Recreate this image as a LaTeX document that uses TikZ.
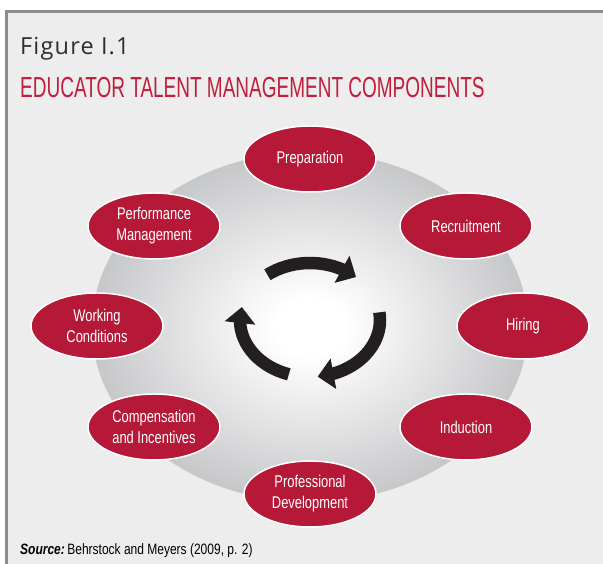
\documentclass[tikz,border=0pt]{standalone}
\usepackage{fontspec}
\setmainfont{Liberation Sans}
\newfontfamily\condfont[FakeStretch=0.76]{Liberation Sans}
\newfontfamily\srcfont[FakeStretch=0.8]{Liberation Sans}
\newfontfamily\titlefont[FakeStretch=0.655]{Liberation Sans}
\newfontfamily\figfont[LetterSpace=5]{Open Sans}
\usetikzlibrary{arrows.meta,bending,shapes.geometric}
\definecolor{bg}{HTML}{EDEDED}
\definecolor{framegray}{HTML}{8C8C8C}
\definecolor{compred}{HTML}{B51937}
\definecolor{titlered}{HTML}{C01E3C}
\definecolor{figgray}{HTML}{2E2E2E}
\definecolor{arrblack}{HTML}{231F20}
\definecolor{discgray}{HTML}{C6C7C9}
\pgfdeclareradialshading{discshade}{\pgfpoint{0bp}{0bp}}{color(0bp)=(white); color(4bp)=(white); color(25bp)=(discgray); color(50bp)=(discgray)}
\tikzset{
  comp/.style={ellipse, minimum width=132pt, minimum height=66pt, inner sep=0pt,
    fill=compred, draw=white, line width=1.5pt, text=white, align=center,
    font=\condfont\fontsize{17}{21}\selectfont},
  cyclearrow/.style={line width=12.5pt, color=arrblack,
    -{Triangle[width=30pt,length=16pt]}},
  plaintext/.style={anchor=base west, inner sep=0pt}
}
\begin{document}
\begin{tikzpicture}[x=1pt,y=1pt]
\useasboundingbox (0,0) rectangle (603,564);
\clip (0,0) rectangle (603,564);
% frame
\fill[bg] (6,-10) rectangle (620,553);
\draw[framegray, line width=2.5pt] (6.3,-10) -- (6.3,552.5) -- (620,552.5);
% titles
\node[plaintext, font=\figfont\fontsize{23.5}{27}\selectfont, text=figgray] (fig) at (20,509) {Figure I.1};
\node[plaintext, font=\titlefont\fontsize{29}{34}\selectfont, text=titlered] (title) at (20,466) {EDUCATOR TALENT MANAGEMENT COMPONENTS};
\node[plaintext, font=\srcfont\fontsize{15}{18}\selectfont, text=black] (src) at (20,9) {\textbf{\textit{Source:}}\,Behrstock and Meyers (2009, p. 2)};
% disc
\coordinate (disc) at (310,237);
\shade[shading=discshade] (disc) ellipse [x radius=218, y radius=175];
% cycle arrows
\coordinate (cyc) at (310,244);
\draw[cyclearrow] (cyc) ++(127.5:70 and 57) arc[start angle=127.5, end angle=48.9, x radius=70, y radius=57];
\draw[cyclearrow] (cyc) ++(7.7:70 and 57) arc[start angle=7.7, end angle=-83.7, x radius=70, y radius=57];
\draw[cyclearrow] (cyc) ++(252.4:70 and 57) arc[start angle=252.4, end angle=166.9, x radius=70, y radius=57];
% components
\node[comp] (prep) at (310,405) {Preparation};
\node[comp] (recr) at (466,338) {Recruitment};
\node[comp] (hire) at (523,238) {Hiring};
\node[comp] (ind) at (466,137) {Induction};
\node[comp] (prof) at (310,70) {Professional\\Development};
\node[comp] (comp) at (154,137) {Compensation\\and Incentives};
\node[comp] (work) at (97,238) {Working\\Conditions};
\node[comp] (perf) at (154,338) {Performance\\Management};
\end{tikzpicture}
\end{document}
